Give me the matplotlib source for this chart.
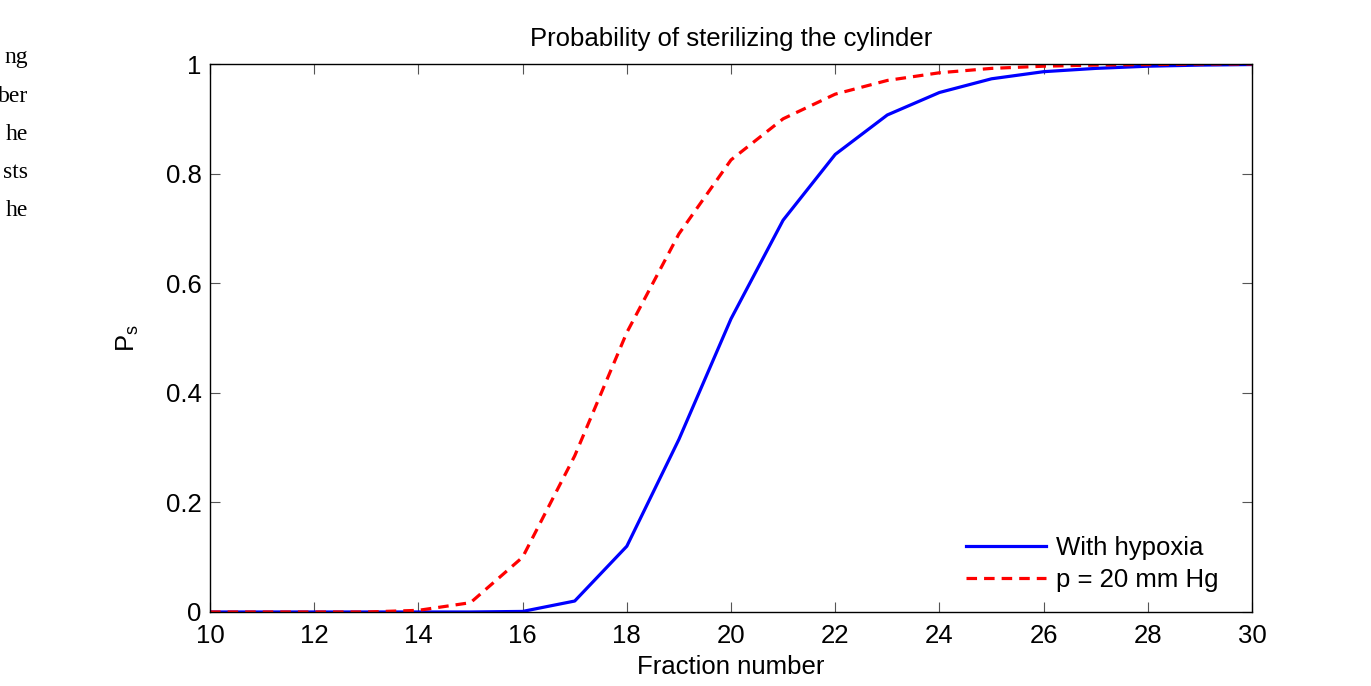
import numpy as np
import matplotlib
matplotlib.use('Agg')
import matplotlib.pyplot as plt

plt.rcParams['font.family'] = ['Liberation Sans', 'DejaVu Sans']
plt.rcParams['mathtext.fontset'] = 'custom'
plt.rcParams['mathtext.rm'] = 'Liberation Sans'

# data
fractions = np.arange(10, 31)
with_hypoxia = [0.0, 0.0, 0.0, 0.0, 0.0, 0.0, 0.001, 0.02, 0.12, 0.315, 0.535,
                0.715, 0.835, 0.907, 0.948, 0.973, 0.986, 0.992, 0.996, 0.998, 0.999]
p20 = [0.0, 0.0, 0.0, 0.0, 0.003, 0.017, 0.10, 0.285, 0.51, 0.69, 0.825,
       0.90, 0.945, 0.97, 0.984, 0.992, 0.996, 0.998, 0.999, 1.0, 1.0]
series_labels = ['With hypoxia', 'p = 20 mm Hg']
x_ticks = np.arange(10, 31, 2)
y_ticks = [0, 0.2, 0.4, 0.6, 0.8, 1]
y_tick_labels = ['0', '0.2', '0.4', '0.6', '0.8', '1']
side_text = ['ng', 'ber', 'he', 'sts', 'he']

fs = 18.5

fig = plt.figure(figsize=(13.71, 6.86), dpi=100)
ax = fig.add_axes([0.1532, 0.1079, 0.7600, 0.7988])

ax.plot(fractions, with_hypoxia, color='#0000ff', lw=2.3, label=series_labels[0])
ax.plot(fractions, p20, color='#ff0000', lw=2.3, ls=(0, (3.3, 2.2)),
        label=series_labels[1])

ax.set_xlim(10, 30)
ax.set_ylim(0, 1)
ax.set_xticks(x_ticks)
ax.set_yticks(y_ticks)
ax.set_yticklabels(y_tick_labels)
ax.tick_params(direction='in', length=7, width=0.8, labelsize=fs,
               top=True, right=True, color='#555555')
ax.tick_params(axis='x', pad=9)
ax.tick_params(axis='y', pad=6)
for s in ax.spines.values():
    s.set_linewidth(1.0)

ax.set_title('Probability of sterilizing the cylinder', fontsize=fs, pad=13)
ax.set_xlabel('Fraction number', fontsize=fs, labelpad=5)
ax.set_ylabel(r'P$_{\rm s}$', fontsize=fs, labelpad=18)

ax.legend(loc='lower right', bbox_to_anchor=(0.978, 0.018), borderaxespad=0,
          frameon=False, fontsize=fs, handlelength=3.1,
          handletextpad=0.4, labelspacing=0.3)

# fragments of the surrounding document text on the left edge
for i, t in enumerate(side_text):
    fig.text(28 / 1371, 1 - (58 + 38 * i) / 686, t, ha='right', va='center',
             fontsize=17, family='Liberation Serif')

fig.savefig('out.png', dpi=100)
